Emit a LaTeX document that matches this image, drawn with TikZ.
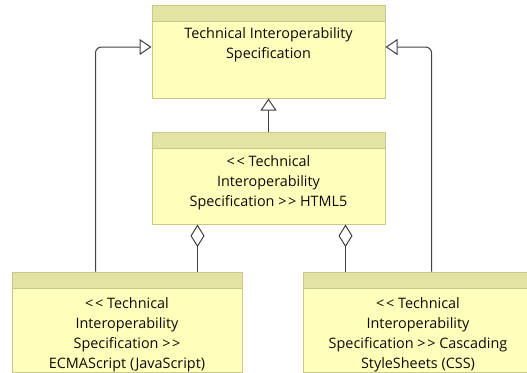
\documentclass[tikz,border=0pt]{standalone}
\usepackage{fontspec}
\setmainfont{Open Sans}
\usetikzlibrary{arrows.meta,positioning}
\definecolor{specfill}{HTML}{FFFFBB}
\definecolor{spechead}{HTML}{E3E3A3}
\definecolor{specline}{HTML}{C8C88A}
\definecolor{linkline}{HTML}{404040}
\definecolor{spectxt}{HTML}{100808}
\tikzset{
  spec/.style={draw=specline, fill=specfill, line width=0.75pt, inner sep=0pt,
    path picture={
      \fill[spechead] (path picture bounding box.north west) rectangle ([yshift=-12pt]path picture bounding box.north east);
      \draw[specline, line width=0.75pt] ([yshift=-12pt]path picture bounding box.north west) -- ([yshift=-12pt]path picture bounding box.north east);
    }},
  spectext/.style={anchor=north, align=center, inner sep=0pt, text=spectxt,
    font=\fontsize{10.8}{15}\selectfont},
  realize/.style={draw=linkline, line width=0.75pt,
    -{Triangle[open, length=9pt, width=12pt, fill=white]}},
  aggr/.style={draw=linkline, line width=0.75pt,
    {Diamond[open, length=17pt, width=10.5pt, fill=white]}-},
}
\newcommand{\stlt}{<\kern1.2pt<}
\newcommand{\stgt}{>\kern1.2pt>}
\begin{document}
\begin{tikzpicture}[x=0.75pt, y=-0.75pt]
      \useasboundingbox (0,0) rectangle (527,372);
      % boxes
      \node[spec, minimum width=174.75pt, minimum height=69.75pt] (tis) at (268.5,51.5) {};
      \node[spec, minimum width=174.75pt, minimum height=69pt] (html) at (268.5,178) {};
      \node[spec, minimum width=172.5pt, minimum height=75pt] (ecma) at (127,322) {};
      \node[spec, minimum width=172.5pt, minimum height=75pt] (css) at (418,322) {};
      % texts
      \node[spectext] (tistext) at ([yshift=-17.2pt]tis.north) {Technical Interoperability\\Specification};
      \node[spectext] (htmltext) at ([yshift=-17.8pt]html.north) {\stlt{} Technical\\Interoperability\\Specification \stgt{} HTML5};
      \node[spectext] (ecmatext) at ([yshift=-19.5pt]ecma.north) {\stlt{} Technical\\Interoperability\\Specification \stgt\\ECMAScript (JavaScript)};
      \node[spectext] (csstext) at ([yshift=-19.5pt]css.north) {\stlt{} Technical\\Interoperability\\Specification \stgt{} Cascading\\StyleSheets (CSS)};
      % links
      \draw[realize] (html) -- (tis);
      \draw[realize, rounded corners=4.5pt] ([xshift=63pt]ecma.north west) |- ([yshift=3.375pt]tis.west);
      \draw[realize, rounded corners=4.5pt] ([xshift=96.75pt]css.north west) |- ([yshift=3.375pt]tis.east);
      \draw[aggr] ([xshift=34.5pt]html.south west) -- ([xshift=34.5pt]html.south west |- ecma.north);
      \draw[aggr] ([xshift=145.5pt]html.south west) -- ([xshift=145.5pt]html.south west |- css.north);
    \end{tikzpicture}
\end{document}
